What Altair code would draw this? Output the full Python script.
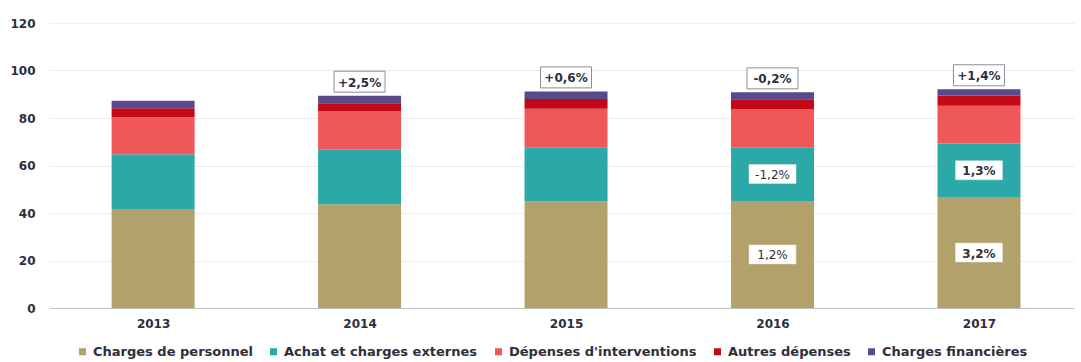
import altair as alt
import pandas as pd

# Category order (bottom to top of each stack) and colours
categories = [
    "Charges de personnel",
    "Achat et charges externes",
    "Dépenses d'interventions",
    "Autres dépenses",
    "Charges financières",
]
colors = ["#b3a16c", "#2aa9a8", "#ef5758", "#c1091a", "#5a4a8b"]

years = [2013, 2014, 2015, 2016, 2017]

# Amounts per category and year
personnel = [41.7, 43.7, 44.8, 45.1, 46.7]
achats = [23.0, 23.1, 22.9, 22.6, 22.6]
interventions = [15.6, 16.1, 16.2, 16.1, 15.9]
autres = [3.8, 3.3, 4.1, 4.1, 4.2]
financieres = [3.2, 3.2, 3.2, 2.9, 2.7]
series = [personnel, achats, interventions, autres, financieres]

# Year-on-year change of the total, shown above the bars
total_change_years = [2014, 2015, 2016, 2017]
total_change_labels = ["+2,5%", "+0,6%", "-0,2%", "+1,4%"]

# Change labels inside the personnel and purchase segments
seg_years = [2016, 2016, 2017, 2017]
seg_series = [0, 1, 0, 1]
seg_labels = ["1,2%", "-1,2%", "3,2%", "1,3%"]
seg_bold = [False, False, True, True]

FONT = "DejaVu Sans"
FS = 12
TEXT = "#2e2e3c"

rows = []
for ci, (cat, vals) in enumerate(zip(categories, series)):
    for y, v in zip(years, vals):
        rows.append({"year": y, "category": cat, "value": v, "order": ci})
bars_df = pd.DataFrame(rows)

totals = {y: sum(s[i] for s in series) for i, y in enumerate(years)}
top_df = pd.DataFrame({
    "year": total_change_years,
    "total": [totals[y] for y in total_change_years],
    "label": total_change_labels,
})

seg_rows = []
for y, si, lab, b in zip(seg_years, seg_series, seg_labels, seg_bold):
    i = years.index(y)
    base = sum(series[k][i] for k in range(si))
    seg_rows.append({"year": y, "mid": base + series[si][i] / 2, "label": lab, "bold": b})
seg_df = pd.DataFrame(seg_rows)

x_scale = alt.Scale(domain=[2012.52, 2017.436], nice=False, zero=False)
y_scale = alt.Scale(domain=[0, 120], nice=False)

bars = alt.Chart(bars_df).mark_bar(size=83).encode(
    x=alt.X(
        "year:Q",
        scale=x_scale,
        axis=alt.Axis(
            values=years, format="d", title=None, grid=False, ticks=False,
            domain=True, domainColor="#c4c4c4", domainWidth=1,
            labelFont=FONT, labelFontSize=FS, labelFontWeight="bold",
            labelColor=TEXT, labelPadding=10,
        ),
    ),
    y=alt.Y(
        "value:Q",
        stack="zero",
        scale=y_scale,
        axis=alt.Axis(
            values=[0, 20, 40, 60, 80, 100, 120], title=None, ticks=False,
            domain=False, grid=True, gridColor="#ededed", gridWidth=1,
            labelFont=FONT, labelFontSize=FS, labelFontWeight="bold",
            labelColor=TEXT, labelPadding=14,
        ),
    ),
    color=alt.Color(
        "category:N",
        scale=alt.Scale(domain=categories, range=colors),
        sort=categories,
        legend=alt.Legend(
            title=None, orient="none", direction="horizontal", columns=5,
            legendX=27, legendY=322, symbolType="square", symbolSize=49,
            symbolStrokeWidth=0, labelFont=FONT, labelFontSize=13,
            labelFontWeight="bold", labelColor=TEXT, labelOffset=4,
            columnPadding=14, padding=0, labelLimit=300,
        ),
    ),
    order=alt.Order("order:Q", sort="ascending"),
)

top_box = alt.Chart(top_df).mark_rect(
    width=51, height=21, fill="white", stroke="#8c8c96", strokeWidth=1, yOffset=-14
).encode(x=alt.X("year:Q", scale=x_scale), y=alt.Y("total:Q", scale=y_scale))

top_text = alt.Chart(top_df).mark_text(
    font=FONT, fontSize=FS, fontWeight="bold", color=TEXT, yOffset=-13
).encode(x=alt.X("year:Q", scale=x_scale), y=alt.Y("total:Q", scale=y_scale), text="label:N")

seg_box = alt.Chart(seg_df).mark_rect(
    width=47, height=19, fill="white", stroke="#e6e6e6", strokeWidth=0.5
).encode(x=alt.X("year:Q", scale=x_scale), y=alt.Y("mid:Q", scale=y_scale))

seg_text_bold = alt.Chart(seg_df).transform_filter("datum.bold").mark_text(
    font=FONT, fontSize=FS, fontWeight="bold", color=TEXT, dy=1
).encode(x=alt.X("year:Q", scale=x_scale), y=alt.Y("mid:Q", scale=y_scale), text="label:N")

seg_text_reg = alt.Chart(seg_df).transform_filter("!datum.bold").mark_text(
    font=FONT, fontSize=FS, fontWeight="normal", color=TEXT, dy=1
).encode(x=alt.X("year:Q", scale=x_scale), y=alt.Y("mid:Q", scale=y_scale), text="label:N")

chart = alt.layer(
    bars, top_box, top_text, seg_box, seg_text_bold, seg_text_reg
).properties(
    width=1025,
    height=285,
    autosize=alt.AutoSizeParams(type="none"),
    padding={"left": 49, "top": 23, "right": 7, "bottom": 54},
    background="white",
).configure_view(stroke=None)

chart.save("out.html", embed_options={"renderer": "svg", "actions": False})
